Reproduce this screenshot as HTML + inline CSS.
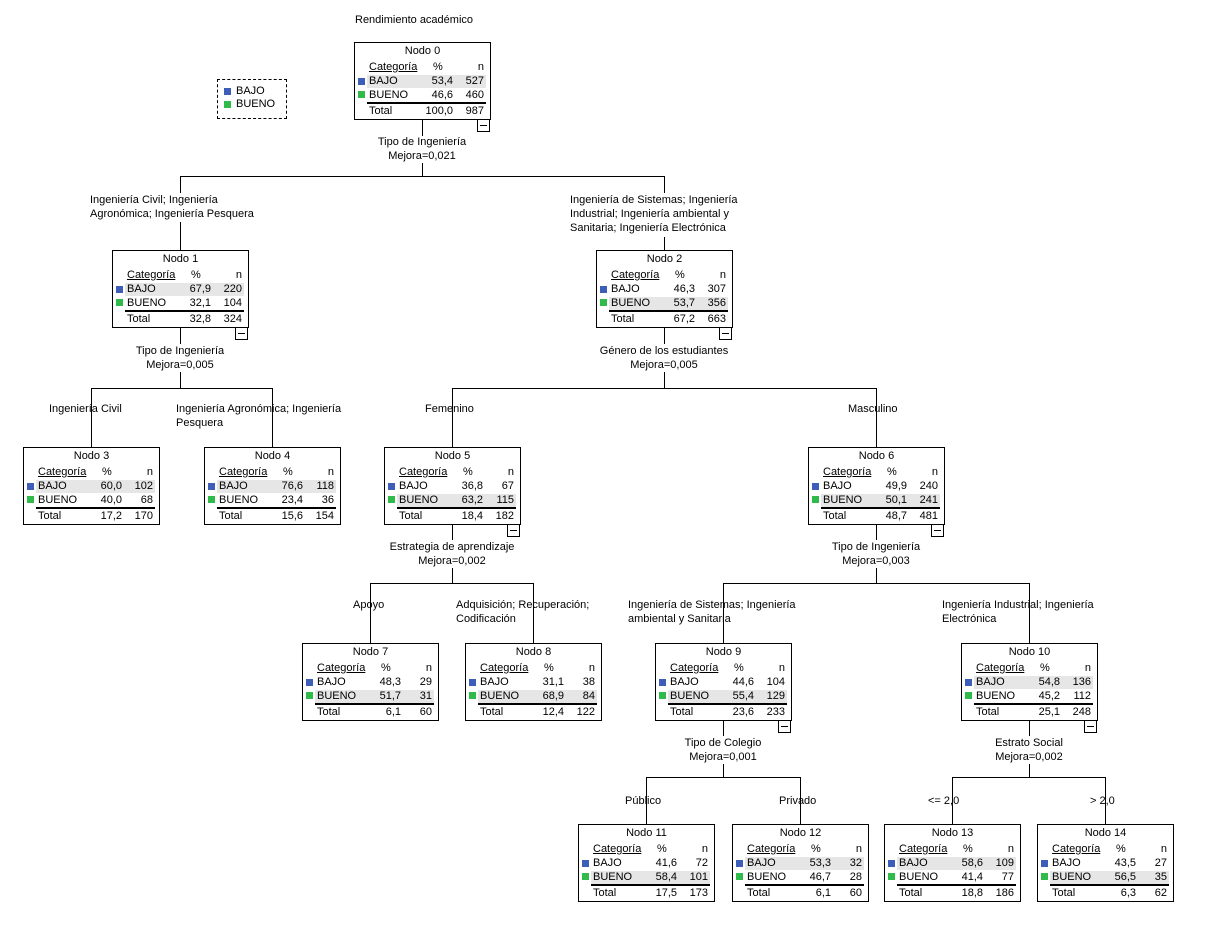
<!DOCTYPE html>
<html><head><meta charset="utf-8"><style>
body{margin:0;width:1208px;height:935px;background:#fff;position:relative;overflow:hidden;font-family:"Liberation Sans",sans-serif;font-size:11px;color:#000}
.t{position:absolute;line-height:14px;white-space:pre}
.c{transform:translateX(-50%);text-align:center}
.n{position:absolute;width:135px;height:76px;border:1px solid #000;background:#fff}
.n div{position:absolute;line-height:14px;white-space:pre}
.ti{left:0;right:0;top:1px;text-align:center}
.h1{left:14px;top:17px;text-decoration:underline}
.h2{left:78px;top:17px}
.h3{right:6px;top:17px}
.ul{left:13px;right:4px;top:30px;height:0;border-top:1px solid #000}
.r{left:12px;right:4px;height:13px}
.hl{background:#e6e6e6}
.sq{width:7px;height:7px;left:3px}
.b{background:#3d5db9}.g{background:#2fba4a}
.lab{left:14px}
.p{right:37px}
.nn{right:6px}
.tl{left:12px;right:4px;top:59px;border-top:2px solid #000;height:0}
.m{position:absolute;width:11px;height:11px;border:1px solid #000;background:#fff}
.m:after{content:"";position:absolute;left:2px;right:2px;top:5px;border-top:1px solid #000}
</style></head><body>
<svg width="1208" height="935" style="position:absolute;left:0;top:0" shape-rendering="crispEdges" stroke="#000" stroke-width="1">
<path d="M422.5 119V136M422.5 163V176.5M180 176.5H665M180.5 176V193M180.5 222V250M664.5 176V193M664.5 237V250" fill="none"/>
<path d="M180.5 327V344M180.5 372V388.5M91 388.5H273M91.5 388V447M272.5 388V447" fill="none"/>
<path d="M664.5 327V344M664.5 372V388.5M452 388.5H877M452.5 388V447M876.5 388V447" fill="none"/>
<path d="M452.5 524V540M452.5 568V583.5M370 583.5H534M370.5 583V643M533.5 583V643" fill="none"/>
<path d="M876.5 524V540M876.5 568V583.5M723 583.5H1030M723.5 583V643M1029.5 583V643" fill="none"/>
<path d="M723.5 720V736M723.5 764V777.5M646 777.5H801M646.5 777V824M800.5 777V824" fill="none"/>
<path d="M1029.5 720V736M1029.5 764V777.5M952 777.5H1106M952.5 777V824M1105.5 777V824" fill="none"/>
</svg>

<div class="t" style="left:355px;top:13px">Rendimiento académico</div>
<div style="position:absolute;left:217px;top:79px;width:68px;height:38px;border:1px dashed #000"></div>
<div style="position:absolute;left:224px;top:88px;width:7px;height:7px;background:#3d5db9"></div>
<div class="t" style="left:236px;top:84px">BAJO</div>
<div style="position:absolute;left:224px;top:101px;width:7px;height:7px;background:#2fba4a"></div>
<div class="t" style="left:236px;top:97px">BUENO</div>

<!-- split labels -->
<div class="t c" style="left:422px;top:135px">Tipo de Ingeniería
Mejora=0,021</div>
<div class="t c" style="left:180px;top:344px">Tipo de Ingeniería
Mejora=0,005</div>
<div class="t c" style="left:664px;top:344px">Género de los estudiantes
Mejora=0,005</div>
<div class="t c" style="left:452px;top:540px">Estrategia de aprendizaje
Mejora=0,002</div>
<div class="t c" style="left:876px;top:540px">Tipo de Ingeniería
Mejora=0,003</div>
<div class="t c" style="left:723px;top:736px">Tipo de Colegio
Mejora=0,001</div>
<div class="t c" style="left:1029px;top:736px">Estrato Social
Mejora=0,002</div>

<!-- child labels -->
<div class="t" style="left:90px;top:193px">Ingeniería Civil; Ingeniería
Agronómica; Ingeniería Pesquera</div>
<div class="t" style="left:570px;top:193px">Ingeniería de Sistemas; Ingeniería
Industrial; Ingeniería ambiental y
Sanitaria; Ingeniería Electrónica</div>
<div class="t" style="left:49px;top:402px">Ingeniería Civil</div>
<div class="t" style="left:176px;top:402px">Ingeniería Agronómica; Ingeniería
Pesquera</div>
<div class="t" style="left:425px;top:402px">Femenino</div>
<div class="t" style="left:848px;top:402px">Masculino</div>
<div class="t" style="left:353px;top:598px">Apoyo</div>
<div class="t" style="left:456px;top:598px">Adquisición; Recuperación;
Codificación</div>
<div class="t" style="left:628px;top:598px">Ingeniería de Sistemas; Ingeniería
ambiental y Sanitaria</div>
<div class="t" style="left:942px;top:598px">Ingeniería Industrial; Ingeniería
Electrónica</div>
<div class="t" style="left:625px;top:794px">Público</div>
<div class="t" style="left:779px;top:794px">Privado</div>
<div class="t" style="left:928px;top:794px">&lt;= 2,0</div>
<div class="t" style="left:1090px;top:794px">&gt; 2,0</div>

<!-- nodes -->
<div class="n" style="left:354px;top:42px"><div class="ti">Nodo 0</div><div class="h1">Categoría</div><div class="h2">%</div><div class="h3">n</div>
<div class="r hl" style="top:32px"></div><div class="sq b" style="top:35px"></div><div class="lab" style="top:31px">BAJO</div><div class="p" style="top:31px">53,4</div><div class="nn" style="top:31px">527</div>
<div class="sq g" style="top:48px"></div><div class="lab" style="top:45px">BUENO</div><div class="p" style="top:45px">46,6</div><div class="nn" style="top:45px">460</div>
<div class="tl"></div><div class="lab" style="top:61px">Total</div><div class="p" style="top:61px">100,0</div><div class="nn" style="top:61px">987</div></div>
<div class="m" style="left:477px;top:119px"></div>

<div class="n" style="left:112px;top:250px"><div class="ti">Nodo 1</div><div class="h1">Categoría</div><div class="h2">%</div><div class="h3">n</div>
<div class="r hl" style="top:32px"></div><div class="sq b" style="top:35px"></div><div class="lab" style="top:31px">BAJO</div><div class="p" style="top:31px">67,9</div><div class="nn" style="top:31px">220</div>
<div class="sq g" style="top:48px"></div><div class="lab" style="top:45px">BUENO</div><div class="p" style="top:45px">32,1</div><div class="nn" style="top:45px">104</div>
<div class="tl"></div><div class="lab" style="top:61px">Total</div><div class="p" style="top:61px">32,8</div><div class="nn" style="top:61px">324</div></div>
<div class="m" style="left:235px;top:327px"></div>

<div class="n" style="left:596px;top:250px"><div class="ti">Nodo 2</div><div class="h1">Categoría</div><div class="h2">%</div><div class="h3">n</div>
<div class="r hl" style="top:46px"></div><div class="sq b" style="top:35px"></div><div class="lab" style="top:31px">BAJO</div><div class="p" style="top:31px">46,3</div><div class="nn" style="top:31px">307</div>
<div class="sq g" style="top:48px"></div><div class="lab" style="top:45px">BUENO</div><div class="p" style="top:45px">53,7</div><div class="nn" style="top:45px">356</div>
<div class="tl"></div><div class="lab" style="top:61px">Total</div><div class="p" style="top:61px">67,2</div><div class="nn" style="top:61px">663</div></div>
<div class="m" style="left:719px;top:327px"></div>

<div class="n" style="left:23px;top:447px"><div class="ti">Nodo 3</div><div class="h1">Categoría</div><div class="h2">%</div><div class="h3">n</div>
<div class="r hl" style="top:32px"></div><div class="sq b" style="top:35px"></div><div class="lab" style="top:31px">BAJO</div><div class="p" style="top:31px">60,0</div><div class="nn" style="top:31px">102</div>
<div class="sq g" style="top:48px"></div><div class="lab" style="top:45px">BUENO</div><div class="p" style="top:45px">40,0</div><div class="nn" style="top:45px">68</div>
<div class="tl"></div><div class="lab" style="top:61px">Total</div><div class="p" style="top:61px">17,2</div><div class="nn" style="top:61px">170</div></div>

<div class="n" style="left:204px;top:447px"><div class="ti">Nodo 4</div><div class="h1">Categoría</div><div class="h2">%</div><div class="h3">n</div>
<div class="r hl" style="top:32px"></div><div class="sq b" style="top:35px"></div><div class="lab" style="top:31px">BAJO</div><div class="p" style="top:31px">76,6</div><div class="nn" style="top:31px">118</div>
<div class="sq g" style="top:48px"></div><div class="lab" style="top:45px">BUENO</div><div class="p" style="top:45px">23,4</div><div class="nn" style="top:45px">36</div>
<div class="tl"></div><div class="lab" style="top:61px">Total</div><div class="p" style="top:61px">15,6</div><div class="nn" style="top:61px">154</div></div>

<div class="n" style="left:384px;top:447px"><div class="ti">Nodo 5</div><div class="h1">Categoría</div><div class="h2">%</div><div class="h3">n</div>
<div class="r hl" style="top:46px"></div><div class="sq b" style="top:35px"></div><div class="lab" style="top:31px">BAJO</div><div class="p" style="top:31px">36,8</div><div class="nn" style="top:31px">67</div>
<div class="sq g" style="top:48px"></div><div class="lab" style="top:45px">BUENO</div><div class="p" style="top:45px">63,2</div><div class="nn" style="top:45px">115</div>
<div class="tl"></div><div class="lab" style="top:61px">Total</div><div class="p" style="top:61px">18,4</div><div class="nn" style="top:61px">182</div></div>
<div class="m" style="left:507px;top:524px"></div>

<div class="n" style="left:808px;top:447px"><div class="ti">Nodo 6</div><div class="h1">Categoría</div><div class="h2">%</div><div class="h3">n</div>
<div class="r hl" style="top:46px"></div><div class="sq b" style="top:35px"></div><div class="lab" style="top:31px">BAJO</div><div class="p" style="top:31px">49,9</div><div class="nn" style="top:31px">240</div>
<div class="sq g" style="top:48px"></div><div class="lab" style="top:45px">BUENO</div><div class="p" style="top:45px">50,1</div><div class="nn" style="top:45px">241</div>
<div class="tl"></div><div class="lab" style="top:61px">Total</div><div class="p" style="top:61px">48,7</div><div class="nn" style="top:61px">481</div></div>
<div class="m" style="left:931px;top:524px"></div>

<div class="n" style="left:302px;top:643px"><div class="ti">Nodo 7</div><div class="h1">Categoría</div><div class="h2">%</div><div class="h3">n</div>
<div class="r hl" style="top:46px"></div><div class="sq b" style="top:35px"></div><div class="lab" style="top:31px">BAJO</div><div class="p" style="top:31px">48,3</div><div class="nn" style="top:31px">29</div>
<div class="sq g" style="top:48px"></div><div class="lab" style="top:45px">BUENO</div><div class="p" style="top:45px">51,7</div><div class="nn" style="top:45px">31</div>
<div class="tl"></div><div class="lab" style="top:61px">Total</div><div class="p" style="top:61px">6,1</div><div class="nn" style="top:61px">60</div></div>

<div class="n" style="left:465px;top:643px"><div class="ti">Nodo 8</div><div class="h1">Categoría</div><div class="h2">%</div><div class="h3">n</div>
<div class="r hl" style="top:46px"></div><div class="sq b" style="top:35px"></div><div class="lab" style="top:31px">BAJO</div><div class="p" style="top:31px">31,1</div><div class="nn" style="top:31px">38</div>
<div class="sq g" style="top:48px"></div><div class="lab" style="top:45px">BUENO</div><div class="p" style="top:45px">68,9</div><div class="nn" style="top:45px">84</div>
<div class="tl"></div><div class="lab" style="top:61px">Total</div><div class="p" style="top:61px">12,4</div><div class="nn" style="top:61px">122</div></div>

<div class="n" style="left:655px;top:643px"><div class="ti">Nodo 9</div><div class="h1">Categoría</div><div class="h2">%</div><div class="h3">n</div>
<div class="r hl" style="top:46px"></div><div class="sq b" style="top:35px"></div><div class="lab" style="top:31px">BAJO</div><div class="p" style="top:31px">44,6</div><div class="nn" style="top:31px">104</div>
<div class="sq g" style="top:48px"></div><div class="lab" style="top:45px">BUENO</div><div class="p" style="top:45px">55,4</div><div class="nn" style="top:45px">129</div>
<div class="tl"></div><div class="lab" style="top:61px">Total</div><div class="p" style="top:61px">23,6</div><div class="nn" style="top:61px">233</div></div>
<div class="m" style="left:778px;top:720px"></div>

<div class="n" style="left:961px;top:643px"><div class="ti">Nodo 10</div><div class="h1">Categoría</div><div class="h2">%</div><div class="h3">n</div>
<div class="r hl" style="top:32px"></div><div class="sq b" style="top:35px"></div><div class="lab" style="top:31px">BAJO</div><div class="p" style="top:31px">54,8</div><div class="nn" style="top:31px">136</div>
<div class="sq g" style="top:48px"></div><div class="lab" style="top:45px">BUENO</div><div class="p" style="top:45px">45,2</div><div class="nn" style="top:45px">112</div>
<div class="tl"></div><div class="lab" style="top:61px">Total</div><div class="p" style="top:61px">25,1</div><div class="nn" style="top:61px">248</div></div>
<div class="m" style="left:1084px;top:720px"></div>

<div class="n" style="left:578px;top:824px"><div class="ti">Nodo 11</div><div class="h1">Categoría</div><div class="h2">%</div><div class="h3">n</div>
<div class="r hl" style="top:46px"></div><div class="sq b" style="top:35px"></div><div class="lab" style="top:31px">BAJO</div><div class="p" style="top:31px">41,6</div><div class="nn" style="top:31px">72</div>
<div class="sq g" style="top:48px"></div><div class="lab" style="top:45px">BUENO</div><div class="p" style="top:45px">58,4</div><div class="nn" style="top:45px">101</div>
<div class="tl"></div><div class="lab" style="top:61px">Total</div><div class="p" style="top:61px">17,5</div><div class="nn" style="top:61px">173</div></div>

<div class="n" style="left:732px;top:824px"><div class="ti">Nodo 12</div><div class="h1">Categoría</div><div class="h2">%</div><div class="h3">n</div>
<div class="r hl" style="top:32px"></div><div class="sq b" style="top:35px"></div><div class="lab" style="top:31px">BAJO</div><div class="p" style="top:31px">53,3</div><div class="nn" style="top:31px">32</div>
<div class="sq g" style="top:48px"></div><div class="lab" style="top:45px">BUENO</div><div class="p" style="top:45px">46,7</div><div class="nn" style="top:45px">28</div>
<div class="tl"></div><div class="lab" style="top:61px">Total</div><div class="p" style="top:61px">6,1</div><div class="nn" style="top:61px">60</div></div>

<div class="n" style="left:884px;top:824px"><div class="ti">Nodo 13</div><div class="h1">Categoría</div><div class="h2">%</div><div class="h3">n</div>
<div class="r hl" style="top:32px"></div><div class="sq b" style="top:35px"></div><div class="lab" style="top:31px">BAJO</div><div class="p" style="top:31px">58,6</div><div class="nn" style="top:31px">109</div>
<div class="sq g" style="top:48px"></div><div class="lab" style="top:45px">BUENO</div><div class="p" style="top:45px">41,4</div><div class="nn" style="top:45px">77</div>
<div class="tl"></div><div class="lab" style="top:61px">Total</div><div class="p" style="top:61px">18,8</div><div class="nn" style="top:61px">186</div></div>

<div class="n" style="left:1037px;top:824px"><div class="ti">Nodo 14</div><div class="h1">Categoría</div><div class="h2">%</div><div class="h3">n</div>
<div class="r hl" style="top:46px"></div><div class="sq b" style="top:35px"></div><div class="lab" style="top:31px">BAJO</div><div class="p" style="top:31px">43,5</div><div class="nn" style="top:31px">27</div>
<div class="sq g" style="top:48px"></div><div class="lab" style="top:45px">BUENO</div><div class="p" style="top:45px">56,5</div><div class="nn" style="top:45px">35</div>
<div class="tl"></div><div class="lab" style="top:61px">Total</div><div class="p" style="top:61px">6,3</div><div class="nn" style="top:61px">62</div></div>
</body></html>
